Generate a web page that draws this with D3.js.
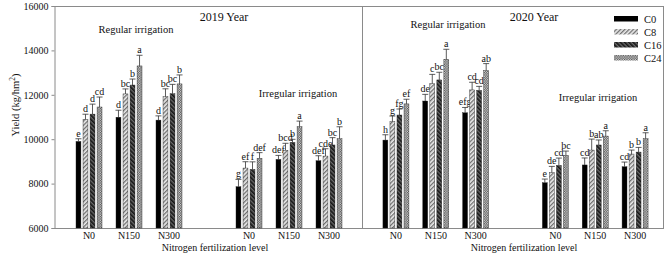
<!DOCTYPE html>
<html><head><meta charset="utf-8">
<script src="https://cdn.jsdelivr.net/npm/d3@7"></script>
<style>body{margin:0;background:#fff}text{font-family:"Liberation Serif","Times New Roman",serif;fill:#111}</style>
</head><body><svg id="c" width="670" height="255"></svg>
<script>
const years = ["2019 Year", "2020 Year"];
const irrigation = ["Regular irrigation", "Irregular irrigation"];
const nLevels = ["N0", "N150", "N300"];
const treatments = ["C0", "C8", "C16", "C24"];
const yTicks = [6000, 8000, 10000, 12000, 14000, 16000];
// rows: Regular N0, N150, N300, Irregular N0, N150, N300
const yield2019 = [
  [9900, 10900, 11130, 11450],
  [10990, 12040, 12440, 13300],
  [10860, 11910, 12050, 12490],
  [7860, 8700, 8640, 9140],
  [9090, 9500, 9860, 10560],
  [9030, 9240, 9740, 10020]
];
const err2019 = [
  [120, 225, 450, 450],
  [315, 225, 270, 480],
  [190, 360, 420, 405],
  [330, 285, 340, 255],
  [180, 315, 135, 255],
  [225, 330, 330, 540]
];
const letters2019 = [
  ["e", "d", "d", "cd"], ["d", "bc", "b", "a"], ["d", "bc", "bc", "b"],
  ["g", "ef", "f", "def"], ["def", "bcd", "b", "a"], ["def", "cde", "bc", "b"]
];
const yield2020 = [
  [9960, 10790, 11090, 11590],
  [11720, 12500, 12670, 13600],
  [11190, 12220, 12200, 13090],
  [8040, 8490, 8820, 9270],
  [8840, 9510, 9740, 10140],
  [8760, 9330, 9420, 10020]
];
const err2020 = [
  [240, 255, 270, 210],
  [300, 420, 345, 450],
  [240, 345, 180, 315],
  [165, 285, 330, 195],
  [315, 495, 225, 240],
  [210, 180, 210, 270]
];
const letters2020 = [
  ["h", "g", "fg", "ef"], ["de", "c", "bc", "a"], ["efg", "cd", "cd", "ab"],
  ["e", "de", "cd", "bc"], ["cd", "b", "ab", "a"], ["cd", "b", "b", "a"]
];

const svg = d3.select("#c");
const defs = svg.append("defs");
// patterns
const p8 = defs.append("pattern").attr("id", "pC8").attr("patternUnits", "userSpaceOnUse")
  .attr("width", 3).attr("height", 3).attr("patternTransform", "rotate(45)");
p8.append("rect").attr("width", 3).attr("height", 3).attr("fill", "#ececec");
p8.append("rect").attr("width", 1.3).attr("height", 3).attr("fill", "#6e6e6e");
const p16 = defs.append("pattern").attr("id", "pC16").attr("patternUnits", "userSpaceOnUse")
  .attr("width", 3).attr("height", 3).attr("patternTransform", "rotate(-45)");
p16.append("rect").attr("width", 3).attr("height", 3).attr("fill", "#6a6a6a");
p16.append("rect").attr("width", 1.6).attr("height", 3).attr("fill", "#151515");
const p24 = defs.append("pattern").attr("id", "pC24").attr("patternUnits", "userSpaceOnUse")
  .attr("width", 2.4).attr("height", 2.4);
p24.append("rect").attr("width", 2.4).attr("height", 2.4).attr("fill", "#4a4a4a");
p24.append("rect").attr("width", 1.2).attr("height", 1.2).attr("fill", "#e0e0e0");
p24.append("rect").attr("x", 1.2).attr("y", 1.2).attr("width", 1.2).attr("height", 1.2).attr("fill", "#e0e0e0");
const fills = {C0: "#000", C8: "url(#pC8)", C16: "url(#pC16)", C24: "url(#pC24)"};

const L = 54, R = 664, T = 6, B = 228, MID = 362;
const y = d3.scaleLinear().domain([6000, 16000]).range([B, T]);

const slots = ["R-N0", "R-N150", "R-N300", "gap", "I-N0", "I-N150", "I-N300"];
const panels = [
  {year: years[0], vals: yield2019, errs: err2019, lets: letters2019, range: [69, 349],
   title: 224, reg: [136, 33], irr: [298, 97], xlab: 215},
  {year: years[1], vals: yield2020, errs: err2020, lets: letters2020, range: [376, 655],
   title: 534, reg: [448, 28], irr: [598, 101], xlab: 524}
];
const inner = d3.scaleBand().domain(treatments).range([-13, 13]).paddingInner(0.3);
const groupKeys = ["R-N0", "R-N150", "R-N300", "I-N0", "I-N150", "I-N300"];

// frame
const fc = "#8a8a8a";
svg.append("line").attr("x1", L).attr("x2", R).attr("y1", T + 0.5).attr("y2", T + 0.5).attr("stroke", fc);
svg.append("line").attr("x1", R - 0.5).attr("x2", R - 0.5).attr("y1", T).attr("y2", B).attr("stroke", fc);
svg.append("line").attr("x1", MID + 0.5).attr("x2", MID + 0.5).attr("y1", T).attr("y2", B).attr("stroke", fc);
svg.append("line").attr("x1", L).attr("x2", R).attr("y1", B + 0.5).attr("y2", B + 0.5).attr("stroke", fc);

// y axis
const yAx = svg.append("g").attr("transform", `translate(${L + 0.5},0)`)
  .call(d3.axisLeft(y).tickValues(yTicks).tickSize(3).tickPadding(3).tickFormat(d3.format("d")));
yAx.selectAll("path,line").attr("stroke", fc);
yAx.selectAll("text").style("font-family", "Liberation Serif").style("font-size", "10px").attr("fill", "#111");
svg.append("text").attr("transform", "translate(19,105) rotate(-90)").attr("text-anchor", "middle")
  .style("font-size", "10.5px").text("Yield (kg/hm").append("tspan").attr("dy", -4).style("font-size", "7.5px").text("2")
  .select(function(){return this.parentNode;}).append("tspan").attr("dy", 4).text(")");

panels.forEach(p => {
  const x = d3.scaleBand().domain(slots).range(p.range);
  const g = svg.append("g");
  svg.append("text").attr("x", p.title).attr("y", 21).attr("text-anchor", "middle").style("font-size", "12px").text(p.year);
  svg.append("text").attr("x", p.reg[0]).attr("y", p.reg[1]).attr("text-anchor", "middle").style("font-size", "10.5px").text(irrigation[0]);
  svg.append("text").attr("x", p.irr[0]).attr("y", p.irr[1]).attr("text-anchor", "middle").style("font-size", "10.5px").text(irrigation[1]);
  svg.append("text").attr("x", p.xlab).attr("y", 250.5).attr("text-anchor", "middle").style("font-size", "10px").text("Nitrogen fertilization level");
  groupKeys.forEach((k, gi) => {
    const cx = x(k) + x.bandwidth() / 2;
    g.append("text").attr("x", cx).attr("y", 239).attr("text-anchor", "middle").style("font-size", "10px").text(nLevels[gi % 3]);
    treatments.forEach((t, ti) => {
      const v = p.vals[gi][ti], e = p.errs[gi][ti];
      const bx = cx + inner(t), bw = inner.bandwidth();
      g.append("rect").attr("x", bx).attr("y", y(v)).attr("width", bw).attr("height", y(6000) - y(v))
        .attr("fill", fills[t]).attr("stroke", "#222").attr("stroke-width", 0.4);
      const mx = bx + bw / 2;
      g.append("line").attr("x1", mx).attr("x2", mx).attr("y1", y(v)).attr("y2", y(v + e)).attr("stroke", "#333").attr("stroke-width", 0.8);
      g.append("line").attr("x1", mx - 3).attr("x2", mx + 3).attr("y1", y(v + e)).attr("y2", y(v + e)).attr("stroke", "#333").attr("stroke-width", 0.8);
      g.append("text").attr("x", mx).attr("y", y(v + e) - 2).attr("text-anchor", "middle").style("font-size", "10px").text(p.lets[gi][ti]);
    });
  });
});

// legend
const lg = svg.append("g");
treatments.forEach((t, i) => {
  lg.append("rect").attr("x", 614).attr("y", 16 + i * 13).attr("width", 24).attr("height", 5.5).attr("fill", fills[t]);
  lg.append("text").attr("x", 644).attr("y", 22.5 + i * 13).style("font-size", "10.5px").text(t);
});
</script></body></html>
